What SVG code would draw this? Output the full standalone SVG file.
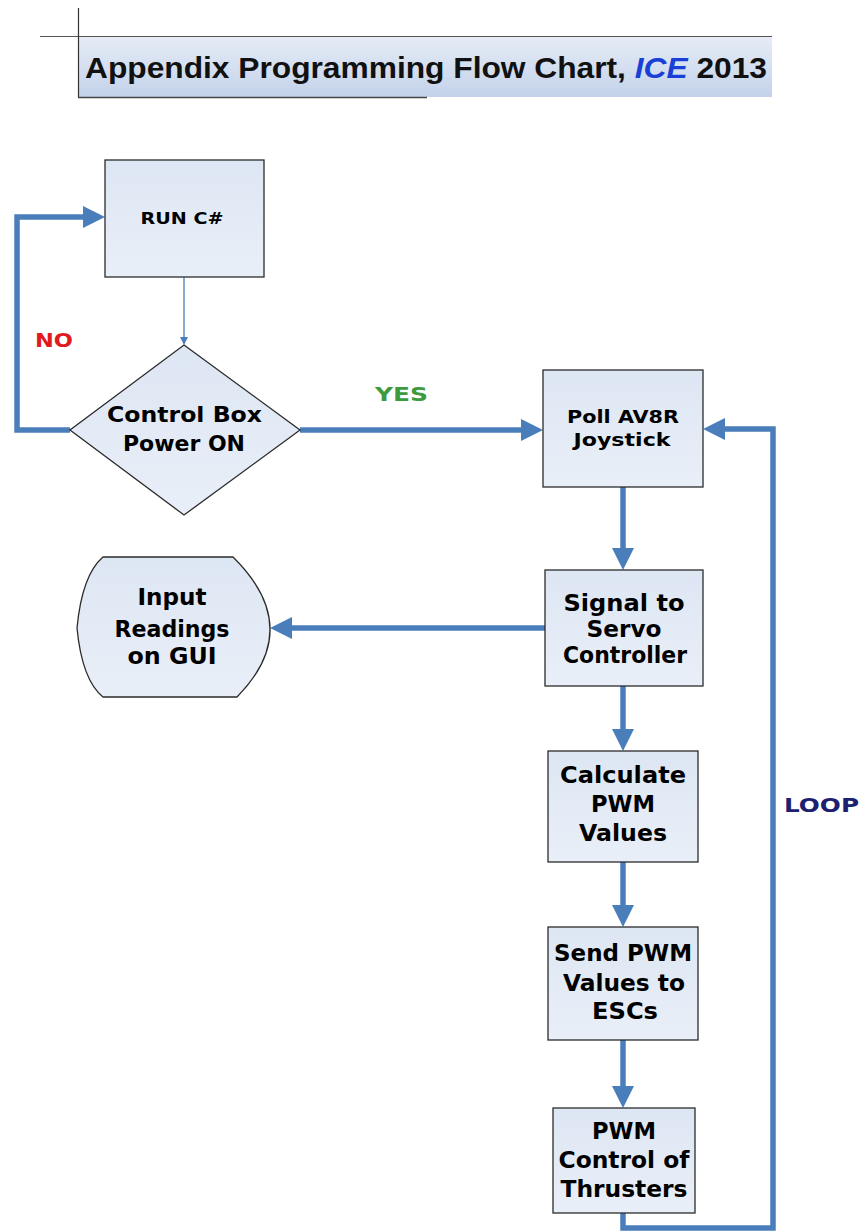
<svg xmlns="http://www.w3.org/2000/svg" width="865" height="1232" viewBox="0 0 865 1232">
<style>
.box{fill:url(#boxg);stroke:#2b2b2b;stroke-width:1.3}
.t{font-family:"DejaVu Sans",Verdana,sans-serif;font-weight:bold;fill:#000;text-anchor:middle}
.con{fill:none;stroke:#4a7ebb;stroke-width:5.5;marker-end:url(#ah)}
.thin{fill:none;stroke:#4a7ebb;stroke-width:1.3;marker-end:url(#ahs)}
.lbl{font-family:"DejaVu Sans",Verdana,sans-serif;font-weight:bold}
</style>
<defs>
<linearGradient id="boxg" x1="0" y1="0" x2="0" y2="1">
<stop offset="0" stop-color="#dde6f3"/>
<stop offset="1" stop-color="#e9eff8"/>
</linearGradient>
<linearGradient id="titleg" x1="0" y1="0" x2="0" y2="1">
<stop offset="0" stop-color="#e6ecf6"/>
<stop offset="1" stop-color="#c3d2ea"/>
</linearGradient>
<marker id="ah" viewBox="0 0 4 4" refX="0" refY="2" markerWidth="4" markerHeight="4" orient="auto">
<path d="M0,0 L4,2 L0,4 z" fill="#4a7ebb"/>
</marker>
<marker id="ahs" viewBox="0 0 8 8" refX="0" refY="4" markerWidth="8" markerHeight="8" markerUnits="userSpaceOnUse" orient="auto">
<path d="M0,0 L8,4 L0,8 z" fill="#4a7ebb"/>
</marker>
</defs>
<rect width="865" height="1232" fill="#ffffff"/>

<g id="title">
<rect x="78" y="37" width="694" height="60" fill="url(#titleg)"/>
<line x1="40" y1="36.5" x2="772" y2="36.5" stroke="#555" stroke-width="1.2"/>
<line x1="78.5" y1="8" x2="78.5" y2="98" stroke="#333" stroke-width="1.2"/>
<line x1="78" y1="97.5" x2="427" y2="97.5" stroke="#444" stroke-width="1.5"/>
<text x="85" y="78" font-family="Liberation Sans,Arial,sans-serif" font-weight="bold" font-size="30" fill="#111" textLength="682" lengthAdjust="spacingAndGlyphs">Appendix Programming Flow Chart, <tspan fill="#1a3fd6" font-style="italic">ICE</tspan> 2013</text>
</g>

<g id="connectors">
<path class="con" d="M70,430 H17 V217 H83"/>
<path class="con" d="M300,430 H521"/>
<path class="con" d="M623,1213 V1228 H773 V429 H725"/>
<path class="con" d="M623,487 V548"/>
<path class="con" d="M545,628 H292"/>
<path class="con" d="M623,686 V729"/>
<path class="con" d="M623,862 V905"/>
<path class="con" d="M623,1040 V1086"/>
<path class="thin" d="M184,277 V337"/>
<text class="lbl" x="35" y="347" font-size="20" fill="#e01a1f" textLength="38" lengthAdjust="spacingAndGlyphs">NO</text>
<text class="lbl" x="375" y="401" font-size="20" fill="#3d9a3d" textLength="53" lengthAdjust="spacingAndGlyphs">YES</text>
<text class="lbl" x="784" y="812" font-size="20" fill="#1b2070" textLength="75" lengthAdjust="spacingAndGlyphs">LOOP</text>
</g>

<g id="run">
<rect class="box" x="105" y="160" width="159" height="117"/>
<text class="t" x="182" y="224" font-size="16.5" textLength="83" lengthAdjust="spacingAndGlyphs">RUN C#</text>
</g>

<g id="decision">
<polygon class="box" points="184,345 300,430 184,515 70,430"/>
<text class="t" x="184.5" y="422" font-size="21" textLength="155" lengthAdjust="spacingAndGlyphs">Control Box</text>
<text class="t" x="184" y="451" font-size="21" textLength="122" lengthAdjust="spacingAndGlyphs">Power ON</text>
</g>

<g id="poll">
<rect class="box" x="543" y="370" width="160" height="117"/>
<text class="t" x="623" y="423" font-size="18.5" textLength="112" lengthAdjust="spacingAndGlyphs">Poll AV8R</text>
<text class="t" x="622" y="446" font-size="18.5" textLength="97" lengthAdjust="spacingAndGlyphs">Joystick</text>
</g>

<g id="signal">
<rect class="box" x="545" y="570" width="158" height="116"/>
<text class="t" x="624" y="611" font-size="22.5" textLength="121" lengthAdjust="spacingAndGlyphs">Signal to</text>
<text class="t" x="624" y="637" font-size="22.5" textLength="75" lengthAdjust="spacingAndGlyphs">Servo</text>
<text class="t" x="625" y="663" font-size="22.5" textLength="124" lengthAdjust="spacingAndGlyphs">Controller</text>
</g>

<g id="display">
<path class="box" d="M103,557 L233,557 Q305,628 237,697 L103,697 Q82,680 77,628 Q82,575 103,557 Z"/>
<text class="t" x="172" y="605" font-size="22.5" textLength="69" lengthAdjust="spacingAndGlyphs">Input</text>
<text class="t" x="172" y="637" font-size="22.5" textLength="115" lengthAdjust="spacingAndGlyphs">Readings</text>
<text class="t" x="172" y="664" font-size="22.5" textLength="89" lengthAdjust="spacingAndGlyphs">on GUI</text>
</g>

<g id="calculate">
<rect class="box" x="548" y="751" width="150" height="111"/>
<text class="t" x="623" y="783" font-size="22.5" textLength="126" lengthAdjust="spacingAndGlyphs">Calculate</text>
<text class="t" x="623" y="812" font-size="22.5" textLength="64" lengthAdjust="spacingAndGlyphs">PWM</text>
<text class="t" x="623" y="841" font-size="22.5" textLength="88" lengthAdjust="spacingAndGlyphs">Values</text>
</g>

<g id="send">
<rect class="box" x="548" y="927" width="150" height="113"/>
<text class="t" x="623" y="961" font-size="22.5" textLength="138" lengthAdjust="spacingAndGlyphs">Send PWM</text>
<text class="t" x="624" y="991" font-size="22.5" textLength="122" lengthAdjust="spacingAndGlyphs">Values to</text>
<text class="t" x="625" y="1019" font-size="22.5" textLength="66" lengthAdjust="spacingAndGlyphs">ESCs</text>
</g>

<g id="pwmcontrol">
<rect class="box" x="553" y="1108" width="142" height="105"/>
<text class="t" x="624" y="1139" font-size="22.5" textLength="64" lengthAdjust="spacingAndGlyphs">PWM</text>
<text class="t" x="624" y="1168" font-size="22.5" textLength="131" lengthAdjust="spacingAndGlyphs">Control of</text>
<text class="t" x="624" y="1197" font-size="22.5" textLength="127" lengthAdjust="spacingAndGlyphs">Thrusters</text>
</g>
</svg>
